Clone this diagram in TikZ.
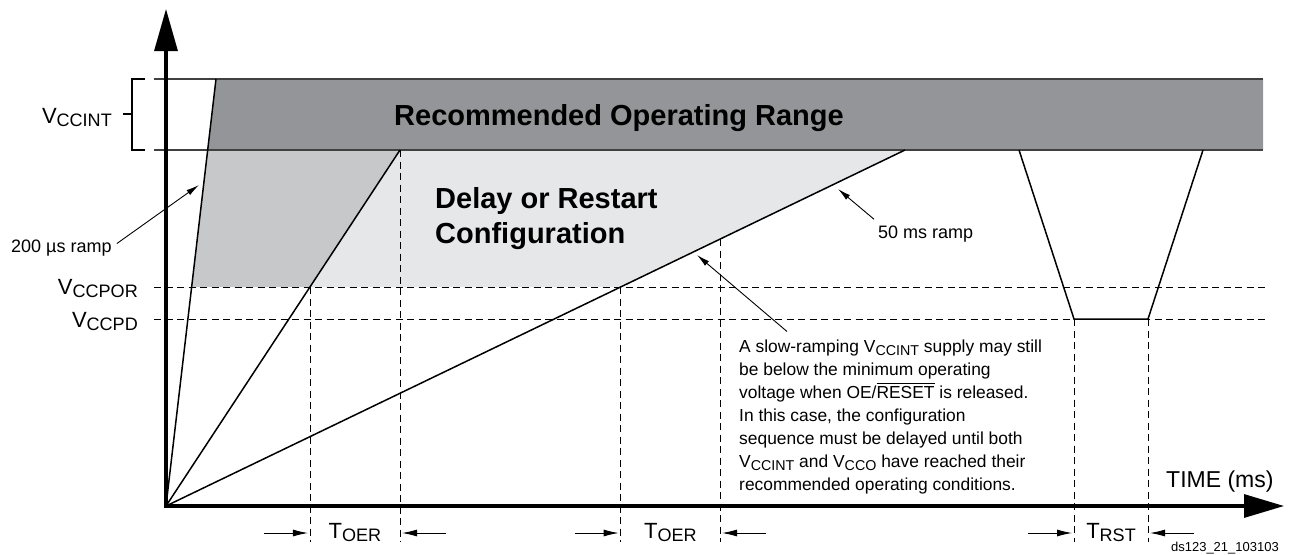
\documentclass[tikz,border=0pt]{standalone}
\usepackage{fontspec}
\setmainfont{Liberation Sans}
\usepackage{amsmath}
\usetikzlibrary{arrows.meta,calc}

\definecolor{bandgray}{HTML}{939598}
\definecolor{midgray}{HTML}{C7C8CA}
\definecolor{litegray}{HTML}{E6E7E8}

\newcommand{\lo}[1]{\raisebox{-0.17em}{\scalebox{0.82}{#1}}}

\tikzset{
  ramp/.style={line width=1.5pt},
  edge/.style={line width=1.3pt,draw=black!75},
  guide/.style={line width=0.9pt,dash pattern=on 7pt off 4.5pt},
  lead/.style={line width=0.9pt,-{Latex[length=13pt,width=6pt]}},
  gap/.style={line width=0.9pt,-{Latex[length=15pt,width=7pt]}},
  lbl/.style={inner sep=0pt,font=\fontsize{22}{22}\selectfont},
  note/.style={inner sep=0pt,font=\fontsize{18}{18}\selectfont},
}

\begin{document}
\begin{tikzpicture}
[x=1pt,y=-1pt]
\useasboundingbox (0,0) rectangle (1289,554);
% levels and ramps
\coordinate (O) at (166,506);
\coordinate (fast) at (216,79);
\coordinate (mid) at (400,150);
\coordinate (slow) at (905,150);
\coordinate (topL) at (154,79); \coordinate (topR) at (1263,79);
\coordinate (botL) at (154,150); \coordinate (botR) at (1263,150);
\coordinate (porL) at (154,287); \coordinate (porR) at (1265,287);
\coordinate (pdL) at (154,319); \coordinate (pdR) at (1265,319);
\coordinate (fastbot) at (intersection of O--fast and botL--botR);
\coordinate (fastpor) at (intersection of O--fast and porL--porR);
\coordinate (midpor) at (intersection of O--mid and porL--porR);
\coordinate (slowpor) at (intersection of O--slow and porL--porR);
\coordinate (slowcut) at ($(O)!0.7497!(slow)$);
\coordinate (rst1) at (1019,150); \coordinate (rst2) at (1074,319);
\coordinate (rst3) at (1148,319); \coordinate (rst4) at (1203,150);
\coordinate (tick) at (0,542);
\coordinate (gapy) at (0,533);
\coordinate (tbase) at (0,538);

\fill[bandgray] (fast) -- (topR) -- (botR) -- (fastbot) -- cycle;
\fill[midgray] (fastbot) -- (mid) -- (midpor) -- (fastpor) -- cycle;
\fill[litegray] (mid) -- (slow) -- (slowpor) -- (midpor) -- cycle;
\draw[edge] (topL) -- (topR);
\draw[edge] (botL) -- (botR);

\foreach \a/\b in {porL/porR,pdL/pdR} \draw[guide] (\a) -- (\b);
\foreach \c in {midpor,mid,slowpor,slowcut,rst2,rst3} \draw[guide] (\c) -- (\c |- tick);

\foreach \c in {fast,mid,slow} \draw[ramp] (O) -- (\c);
\draw[ramp] (rst1) -- (rst2) -- (rst3) -- (rst4);

% bracket
\draw[line width=1.6pt] (145,79) -- (132,79) -- (132,150) -- (145,150);
\draw[line width=1.6pt] (123,114) -- (132,114);

\draw[line width=3.2pt,{Triangle[length=42pt,width=23pt]}-{Triangle[length=40pt,width=23pt]}]
  (166,9) -- (O) -- (1284,506);

% texts
\node[lbl,anchor=base east] (vccint) at (112,123) {V\lo{CCINT}};
\node[lbl,anchor=base east] (vccpor) at (138,294) {V\lo{CCPOR}};
\node[lbl,anchor=base east] (vccpd) at (138,327) {V\lo{CCPD}};
\node[inner sep=0pt,anchor=base,font=\bfseries\fontsize{29}{29}\selectfont] (range) at (619,125) {Recommended Operating Range};
\node[inner sep=0pt,anchor=north west,align=left,font=\bfseries\fontsize{29}{35}\selectfont] (delay) at (435,187) {Delay or Restart\\Configuration};

\node[note,anchor=base west] (fastlbl) at (11,252) {200 µs ramp};
\coordinate (fasttip) at (199,185);
\draw[lead] ([shift={(5,-4)}]fastlbl.east) -- (fasttip);

\node[note,anchor=base west] (slowlbl) at (878,238) {50 ms ramp};
\coordinate (slowtip) at (838,189);
\draw[lead] ([shift={(-4,-6)}]slowlbl.north west) -- (slowtip);

\node[inner sep=0pt,anchor=north west,align=left,font=\fontsize{17.4}{23}\selectfont] (slownote) at (739,339.5)
{A slow-ramping V\lo{CCINT} supply may still\\
be below the minimum operating\\
voltage when OE/$\overline{\mbox{RESET}}$ is released.\\
In this case, the configuration\\
sequence must be delayed until both\\
V\lo{CCINT} and V\lo{CCO} have reached their\\
recommended operating conditions.};
\coordinate (notetip) at (697,255);
\draw[lead] ([shift={(48,-8)}]slownote.north west) -- (notetip);

\foreach \a/\b/\t [count=\i] in {midpor/mid/OER,slowpor/slowcut/OER,rst2/rst3/RST} {
  \draw[gap] ($(\a |- gapy)+(-46,0)$) -- ($(\a |- gapy)+(-2,0)$);
  \draw[gap] ($(\b |- gapy)+(46,0)$) -- ($(\b |- gapy)+(2,0)$);
  \node[lbl,anchor=base] (gap\i) at ($(\a |- tbase)!0.5!(\b |- tbase)$) {T\lo{\t}};
}

\node[inner sep=0pt,anchor=base west,font=\fontsize{23}{23}\selectfont] (time) at (1166,487) {TIME (ms)};
\node[inner sep=0pt,anchor=base east,font=\fontsize{13}{13}\selectfont] (tag) at (1279,551) {ds123\_21\_103103};
\end{tikzpicture}
\end{document}
